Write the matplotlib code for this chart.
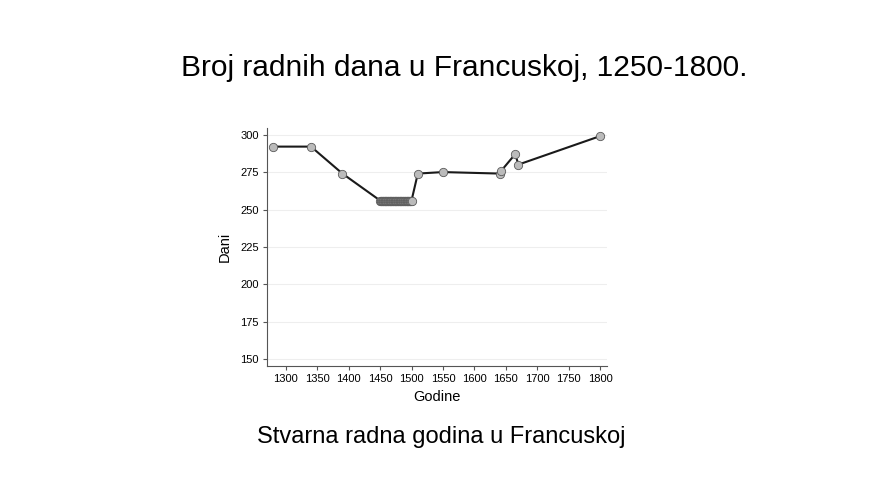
import matplotlib.pyplot as plt

years = [1280, 1340, 1390,
         1450, 1451, 1452, 1453, 1454, 1455, 1456, 1457, 1458, 1459, 1460,
         1461, 1462, 1463, 1464, 1465, 1466, 1467, 1468, 1469, 1470, 1471,
         1472, 1473, 1474, 1475, 1476, 1477, 1478, 1479, 1480, 1481, 1482,
         1483, 1484, 1485, 1486, 1487, 1488, 1489, 1490, 1491, 1492, 1493,
         1494, 1495, 1496, 1497, 1498, 1499, 1500,
         1510, 1550, 1640, 1643, 1665, 1670, 1800]
days = [292, 292, 274,
        256, 256, 256, 256, 256, 256, 256, 256, 256, 256, 256,
        256, 256, 256, 256, 256, 256, 256, 256, 256, 256, 256,
        256, 256, 256, 256, 256, 256, 256, 256, 256, 256, 256,
        256, 256, 256, 256, 256, 256, 256, 256, 256, 256, 256,
        256, 256, 256, 256, 256, 256, 256,
        274, 275, 274, 276, 287, 280, 299]

x_ticks = [1300, 1350, 1400, 1450, 1500, 1550, 1600, 1650, 1700, 1750, 1800]
y_ticks = [150, 175, 200, 225, 250, 275, 300]

plt.rcParams['font.family'] = ['Liberation Sans', 'DejaVu Sans']

fig = plt.figure(figsize=(8.9, 4.9), dpi=100)
ax = fig.add_axes([0.300, 0.253, 0.382, 0.486])

ax.plot(years, days, color="#1a1a1a", linewidth=1.5, marker="o", markersize=6,
        markerfacecolor="#bbbbbb", markeredgecolor="#5a5a5a", markeredgewidth=0.6)

ax.set_xlim(1270, 1811)
ax.set_ylim(145.5, 304.5)
ax.set_xticks(x_ticks)
ax.set_yticks(y_ticks)
ax.tick_params(labelsize=8, length=3, color="#555555", pad=3)
ax.yaxis.grid(True, color="#eeeeee", linewidth=0.8)
ax.set_axisbelow(True)
for s in ["top", "right"]:
    ax.spines[s].set_visible(False)
for s in ["left", "bottom"]:
    ax.spines[s].set_color("#555555")
    ax.spines[s].set_linewidth(0.8)

ax.set_xlabel("Godine", fontsize=10.5, labelpad=4)
ax.set_ylabel("Dani", fontsize=10.5, labelpad=6)

fig.text(0.522, 0.862, "Broj radnih dana u Francuskoj, 1250-1800.", fontsize=21.5,
         ha="center", va="center")
fig.text(0.496, 0.108, "Stvarna radna godina u Francuskoj", fontsize=17,
         ha="center", va="center")

fig.savefig("out.png", dpi=100)
